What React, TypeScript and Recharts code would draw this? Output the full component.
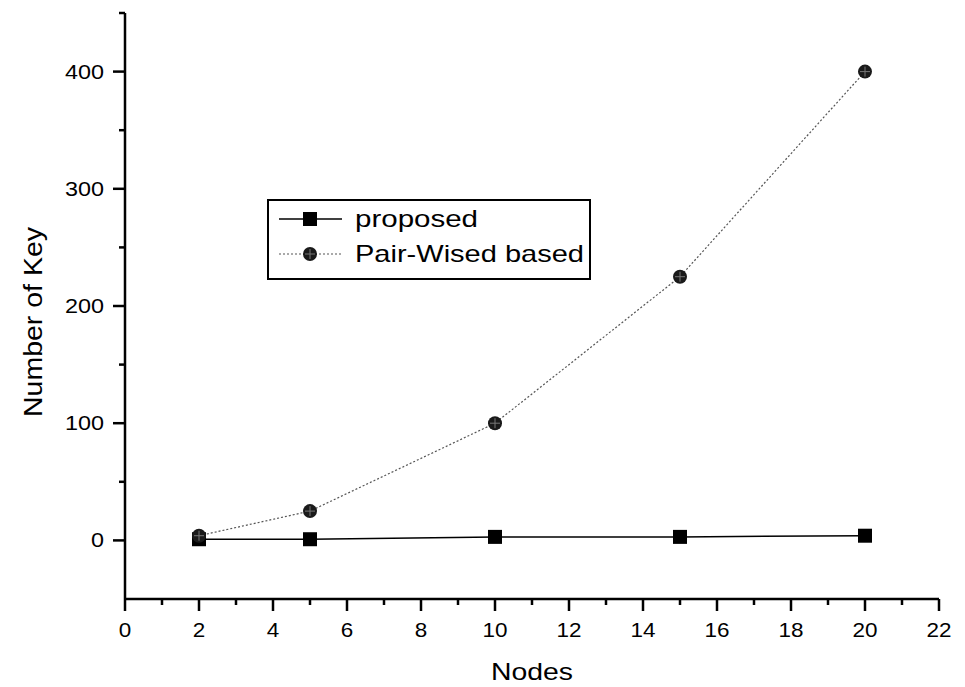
import { LineChart, Line, XAxis, YAxis } from 'recharts';

const nodes = [2, 5, 10, 15, 20];
const proposed = [1, 1, 3, 3, 4];
const pairWised = [4, 25, 100, 225, 400];

const xTicks = [0, 1, 2, 3, 4, 5, 6, 7, 8, 9, 10, 11, 12, 13, 14, 15, 16, 17, 18, 19, 20, 21, 22];
const yTicks = [0, 50, 100, 150, 200, 250, 300, 350, 400, 450];

const FONT = '"Liberation Sans", Arial, sans-serif';

const data = nodes.map((n, i) => ({ n, proposed: proposed[i], pair: pairWised[i] }));

function XTick({ x, y, payload }: any) {
  const major = payload.value % 2 === 0;
  const label = String(payload.value);
  return (
    <g>
      <line x1={x} x2={x} y1={y} y2={y + (major ? 12 : 6)} stroke="#000" strokeWidth={2.5} />
      {major && (
        <text
          x={x}
          y={y + 38}
          textAnchor="middle"
          fontSize={21}
          fontFamily={FONT}
          fill="#000"
          textLength={label.length * 12.5}
          lengthAdjust="spacingAndGlyphs"
        >
          {label}
        </text>
      )}
    </g>
  );
}

function YTick({ x, y, payload }: any) {
  const major = payload.value % 100 === 0;
  const label = String(payload.value);
  return (
    <g>
      <line x1={x} x2={x - (major ? 12 : 6)} y1={y} y2={y} stroke="#000" strokeWidth={2.5} />
      {major && (
        <text
          x={x - 21}
          y={y + 7}
          textAnchor="end"
          fontSize={21}
          fontFamily={FONT}
          fill="#000"
          textLength={label.length * 13}
          lengthAdjust="spacingAndGlyphs"
        >
          {label}
        </text>
      )}
    </g>
  );
}

function XTitle({ viewBox }: any) {
  const vb = viewBox || { x: 125, y: 599, width: 814 };
  return (
    <text
      x={vb.x + vb.width / 2}
      y={vb.y + 81}
      textAnchor="middle"
      fontSize={24}
      fontFamily={FONT}
      fill="#000"
      textLength={82}
      lengthAdjust="spacingAndGlyphs"
    >
      Nodes
    </text>
  );
}

function YTitle({ viewBox }: any) {
  const vb = viewBox || { x: 65, y: 13, width: 60, height: 586 };
  const cx = vb.x - 23;
  const cy = vb.y + vb.height / 2 + 16;
  return (
    <text
      x={cx}
      y={cy}
      transform={`rotate(-90, ${cx}, ${cy})`}
      textAnchor="middle"
      fontSize={26}
      fontFamily={FONT}
      fill="#000"
      textLength={190}
      lengthAdjust="spacingAndGlyphs"
    >
      Number of Key
    </text>
  );
}

function SquareDot({ cx, cy }: any) {
  if (cx == null || cy == null) return null;
  return <rect x={cx - 7} y={cy - 7} width={14} height={14} fill="#000" />;
}

function HatchDot({ cx, cy }: any) {
  if (cx == null || cy == null) return null;
  return (
    <g>
      <circle cx={cx} cy={cy} r={7} fill="#1a1a1a" />
      <line x1={cx - 5} x2={cx + 5} y1={cy} y2={cy} stroke="#777" strokeWidth={1} />
      <line x1={cx} x2={cx} y1={cy - 5} y2={cy + 5} stroke="#777" strokeWidth={1} />
    </g>
  );
}

function LegendBox() {
  return (
    <svg width={325} height={82} style={{ display: 'block' }}>
      <rect x={1} y={1} width={322} height={79} fill="#fff" stroke="#000" strokeWidth={2} />
      <line x1={12} x2={75} y1={20} y2={20} stroke="#000" strokeWidth={1.5} />
      <rect x={36} y={13} width={14} height={14} fill="#000" />
      <text x={88} y={28} fontSize={24} fontFamily={FONT} fill="#000" textLength={123} lengthAdjust="spacingAndGlyphs">
        proposed
      </text>
      <line x1={12} x2={75} y1={55} y2={55} stroke="#555" strokeWidth={1.2} strokeDasharray="2 2" />
      <HatchDot cx={43} cy={55} />
      <text x={88} y={63} fontSize={24} fontFamily={FONT} fill="#000" textLength={229} lengthAdjust="spacingAndGlyphs">
        Pair-Wised based
      </text>
    </svg>
  );
}

export default function App() {
  return (
    <div style={{ position: 'absolute', left: 0, top: 0, width: 965, height: 687, background: '#fff' }}>
      <LineChart width={965} height={687} data={data} margin={{ top: 13, right: 26, left: 65, bottom: 28 }}>
        <XAxis
          dataKey="n"
          type="number"
          domain={[0, 22]}
          ticks={xTicks}
          interval={0}
          tick={<XTick />}
          tickLine={false}
          tickSize={0}
          tickMargin={0}
          axisLine={{ stroke: '#000', strokeWidth: 2.5 }}
          height={60}
          label={<XTitle />}
        />
        <YAxis
          type="number"
          domain={[-50, 450]}
          ticks={yTicks}
          interval={0}
          tick={<YTick />}
          tickLine={false}
          tickSize={0}
          tickMargin={0}
          axisLine={{ stroke: '#000', strokeWidth: 2.5 }}
          width={60}
          label={<YTitle />}
        />
        <Line
          dataKey="proposed"
          stroke="#000"
          strokeWidth={1.5}
          dot={<SquareDot />}
          isAnimationActive={false}
        />
        <Line
          dataKey="pair"
          stroke="#555"
          strokeWidth={1.2}
          strokeDasharray="2 2"
          dot={<HatchDot />}
          isAnimationActive={false}
        />
      </LineChart>
      <div style={{ position: 'absolute', left: 267, top: 199 }}>
        <LegendBox />
      </div>
    </div>
  );
}
